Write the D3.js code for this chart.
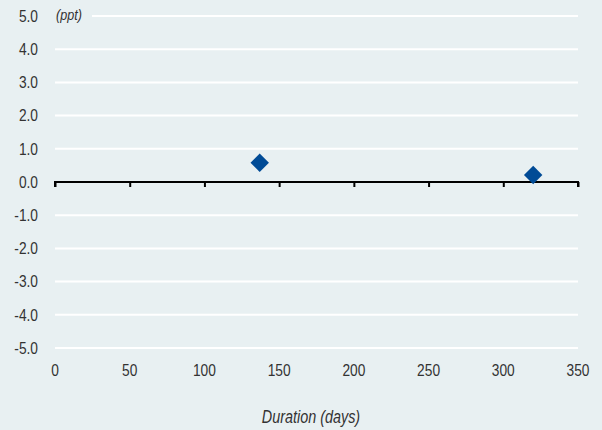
<!DOCTYPE html>
<html><head><meta charset="utf-8">
<script src="https://cdn.jsdelivr.net/npm/d3@7"></script>
<style>
html,body{margin:0;padding:0;background:#e8f0f2;}
svg{display:block;font-family:"Liberation Sans",Arial,sans-serif;}
</style></head>
<body>
<svg id="c" width="602" height="430"></svg>
<script>
const durations = [137, 320];
const changes = [0.58, 0.21];
const yTicks = [5, 4, 3, 2, 1, 0, -1, -2, -3, -4, -5];
const xTicks = [0, 50, 100, 150, 200, 250, 300, 350];
const yUnit = "(ppt)";
const xTitle = "Duration (days)";

const svg = d3.select("#c");
svg.append("rect").attr("width",602).attr("height",430).attr("fill","#e8f0f2");
const x = d3.scaleLinear().domain([0,350]).range([55,578]);
const y = d3.scaleLinear().domain([-5,5]).range([348,16]);
const sx = 0.86;

// gridlines
svg.append("g").selectAll("line").data(yTicks.filter(d=>d!==0)).join("line")
  .attr("x1",d=>d===5?92:x(0)).attr("x2",x(350))
  .attr("y1",d=>y(d)).attr("y2",d=>y(d))
  .attr("stroke","#ffffff").attr("stroke-width",2);

const fmt = d => d.toFixed(1);

// y labels
svg.append("g").selectAll("text").data(yTicks).join("text")
  .attr("transform",d=>`translate(38,${y(d)}) scale(${sx},1)`).attr("dy","0.36em")
  .attr("text-anchor","end").attr("font-size",16).attr("fill","#333")
  .text(fmt);

// zero axis
const ax = svg.append("g").attr("transform",`translate(0,${y(0)})`)
  .call(d3.axisBottom(x).tickValues(xTicks).tickSize(5).tickFormat(""));
ax.select(".domain").attr("stroke","#000").attr("stroke-width",2).attr("d",`M${x(0)},5V0H${x(350)}V5`);
ax.selectAll(".tick line").attr("stroke","#000").attr("stroke-width",2);

// x labels
svg.append("g").selectAll("text").data(xTicks).join("text")
  .attr("transform",d=>`translate(${x(d)},370) scale(${sx},1)`).attr("dy","0.36em")
  .attr("text-anchor","middle").attr("font-size",16).attr("fill","#333")
  .text(d=>d);

svg.append("text").attr("transform","translate(56,16) scale(0.9,1)").attr("dy","0.3em")
  .attr("font-size",14).attr("font-style","italic").attr("fill","#333").text(yUnit);
svg.append("text").attr("transform","translate(311,417) scale(0.8,1)").attr("dy","0.35em")
  .attr("text-anchor","middle")
  .attr("font-size",18).attr("font-style","italic").attr("fill","#333").text(xTitle);

// points
const sym = d3.symbol().type(d3.symbolSquare).size(170);
svg.append("g").selectAll("path").data(durations.map((d,i)=>[d,changes[i]])).join("path")
  .attr("d",sym).attr("fill","#004b96")
  .attr("transform",d=>`translate(${x(d[0])},${y(d[1])}) rotate(45)`);
</script>
</body></html>
